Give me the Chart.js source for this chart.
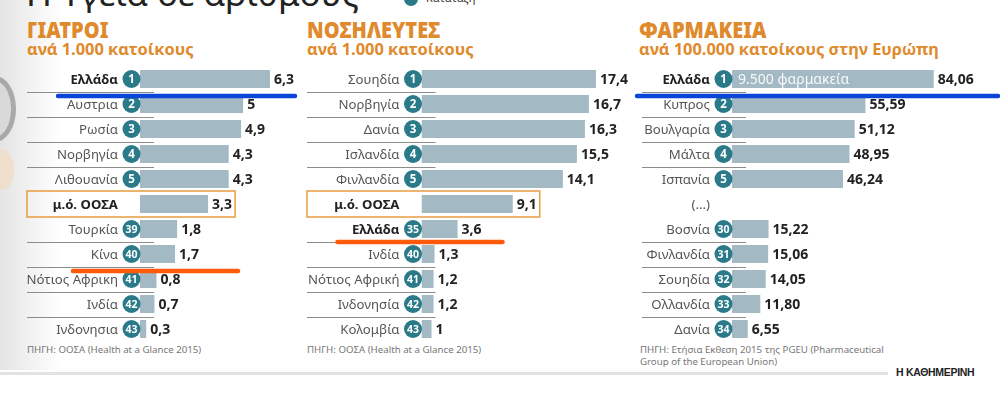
<!DOCTYPE html>
<html>
<head>
<meta charset="utf-8">
<script src="https://cdn.jsdelivr.net/npm/chart.js@4.4.1/dist/chart.umd.min.js"></script>
<style>
  body { margin: 0; width: 1006px; height: 398px; overflow: hidden; background: #fff; position: relative; font-family: "Noto Sans", sans-serif; }
  .shade { position: absolute; left: 0; top: 0; width: 60px; height: 370px; background: linear-gradient(to right, #e4e4e4, rgba(255,255,255,0)); }
  .ring { position: absolute; left: -26px; top: 76px; width: 32px; height: 56px; border-radius: 50%; border: 5px solid #8f8f8f; background: #d4d4d4; opacity: .7; }
  .blob { position: absolute; left: -10px; top: 150px; width: 24px; height: 40px; border-radius: 50%; background: #f0dcc4; opacity: .8; }
  .title { position: absolute; left: 26px; top: -31px; font-size: 35px; color: #222; white-space: nowrap; }
  .legend { position: absolute; left: 404px; top: -10px; font-size: 11px; color: #333; }
  .legend span { display: inline-block; width: 14px; height: 14px; border-radius: 50%; background: #2a7a8a; vertical-align: middle; margin-right: 8px; }
  .head { position: absolute; top: 18px; color: #df8a2c; font-weight: bold; white-space: nowrap; }
  .head b { display: block; font-size: 20px; line-height: 26px; transform: scaleY(1.12); transform-origin: 0 78%; }
  .head i { display: block; font-style: normal; font-size: 16.4px; line-height: 9px; }
  .src { position: absolute; top: 344px; font-size: 9.7px; line-height: 12px; color: #777; white-space: nowrap; }
  .rule { position: absolute; left: 0; top: 372px; width: 888px; height: 3px; background: #e2e2e2; }
  .brand { position: absolute; left: 896px; top: 366px; font-family: "Liberation Sans", sans-serif; font-weight: bold; font-size: 10.5px; color: #222; letter-spacing: -0.3px; }
  canvas { position: absolute; left: 0; top: 0; }
</style>
</head>
<body>
<div class="shade"></div><div class="ring"></div><div class="blob"></div>
<div class="title">Η Υγεία σε αριθμούς</div>
<div class="legend"><span></span>Κατάταξη</div>

<div class="head" style="left:27px"><b>ΓΙΑΤΡΟΙ</b><i>ανά 1.000 κατοίκους</i></div>
<div class="head" style="left:307px"><b>ΝΟΣΗΛΕΥΤΕΣ</b><i>ανά 1.000 κατοίκους</i></div>
<div class="head" style="left:639px"><b>ΦΑΡΜΑΚΕΙΑ</b><i>ανά 100.000 κατοίκους στην Ευρώπη</i></div>

<div class="src" style="left:27px">ΠΗΓΗ: ΟΟΣΑ (Health at a Glance 2015)</div>
<div class="src" style="left:307px">ΠΗΓΗ: ΟΟΣΑ (Health at a Glance 2015)</div>
<div class="src" style="left:640px">ΠΗΓΗ: Ετήσια Εκθεση 2015 της PGEU (Pharmaceutical<br>Group of the European Union)</div>
<div class="rule"></div>
<div class="brand">Η ΚΑΘΗΜΕΡΙΝΗ</div>

<canvas id="doctors" width="1006" height="398"></canvas>
<canvas id="nurses" width="1006" height="398"></canvas>
<canvas id="pharmacies" width="1006" height="398"></canvas>

<script>
// --- data ---
const doctorCountries = ["Ελλάδα", "Αυστρια", "Ρωσία", "Νορβηγία", "Λιθουανία", "μ.ό. ΟΟΣΑ", "Τουρκία", "Κίνα", "Νότιος Αφρικη", "Ινδία", "Ινδονησια"];
const doctorRanks = [1, 2, 3, 4, 5, null, 39, 40, 41, 42, 43];
const doctorValues = [6.3, 5, 4.9, 4.3, 4.3, 3.3, 1.8, 1.7, 0.8, 0.7, 0.3];

const nurseCountries = ["Σουηδία", "Νορβηγία", "Δανία", "Ισλανδία", "Φινλανδία", "μ.ό. ΟΟΣΑ", "Ελλάδα", "Ινδία", "Νότιος Αφρική", "Ινδονησία", "Κολομβία"];
const nurseRanks = [1, 2, 3, 4, 5, null, 35, 40, 41, 42, 43];
const nurseValues = [17.4, 16.7, 16.3, 15.5, 14.1, 9.1, 3.6, 1.3, 1.2, 1.2, 1];

const pharmacyCountries = ["Ελλάδα", "Κυπρος", "Βουλγαρία", "Μάλτα", "Ισπανία", "(...)", "Βοσνία", "Φινλανδία", "Σουηδία", "Ολλανδία", "Δανία"];
const pharmacyRanks = [1, 2, 3, 4, 5, null, 30, 31, 32, 33, 34];
const pharmacyValues = [84.06, 55.59, 51.12, 48.95, 46.24, null, 15.22, 15.06, 14.05, 11.80, 6.55];
const pharmacyNote = "9.500 φαρμακεία";

// --- styling ---
const BAR = "#a3b9c4";
const TEAL = "#2a7a8a";
const FONT = '"Noto Sans", sans-serif';

const panelPlugin = {
  id: "panel",
  afterDatasetsDraw(chart, args, o) {
    const ctx = chart.ctx;
    const xs = chart.scales.x, ys = chart.scales.y;
    const labels = chart.data.labels;
    const values = chart.data.datasets[0].data;
    const x0 = chart.chartArea.left;
    const half = ys.height / labels.length / 2;
    const last = labels.length - 1;
    ctx.save();
    ctx.textBaseline = "middle";
    labels.forEach((lab, i) => {
      const y = ys.getPixelForValue(i);
      // separators
      if (i !== last && i !== o.special && i !== o.special - 1) {
        ctx.strokeStyle = "#8c8c8c";
        ctx.lineWidth = 1;
        ctx.beginPath();
        ctx.moveTo(o.lineLeft, Math.round(y + half) + 0.5);
        ctx.lineTo(x0 + 14, Math.round(y + half) + 0.5);
        ctx.stroke();
      }
      // category label
      const strong = o.bold.includes(i);
      ctx.font = (strong ? "bold " : "") + "13.2px " + FONT;
      ctx.fillStyle = strong ? "#222" : "#555";
      ctx.textAlign = "right";
      ctx.fillText(lab, x0 - 22, y + 1);
      // value label
      const v = values[i];
      let end = x0;
      if (v != null) {
        const txt = o.fixed ? v.toFixed(o.fixed).replace(".", ",") : String(v).replace(".", ",");
        const xe = xs.getPixelForValue(v);
        ctx.font = "bold 14px " + FONT;
        ctx.fillStyle = "#222";
        ctx.textAlign = "left";
        ctx.fillText(txt, xe + 4, y + 1);
        end = xe + 4 + ctx.measureText(txt).width;
      }
      // average box
      if (o.box && i === o.special) {
        ctx.strokeStyle = "#e9a24c";
        ctx.lineWidth = 1.6;
        ctx.strokeRect(o.lineLeft, y - half - 0.5, end + 3 - o.lineLeft, half * 2 + 1);
      }
      // rank badge
      const r = o.ranks[i];
      if (r != null) {
        ctx.fillStyle = TEAL;
        ctx.beginPath();
        ctx.arc(x0 - 8.5, y, 9, 0, Math.PI * 2);
        ctx.fill();
        ctx.fillStyle = "#fff";
        ctx.textAlign = "center";
        ctx.font = "bold " + (r > 9 ? "10.5px " : "11.5px ") + FONT;
        ctx.fillText(String(r), x0 - 8.5, y + 1);
      }
      // note inside bar
      if (o.note && i === 0) {
        ctx.font = "14px " + FONT;
        ctx.fillStyle = "rgba(255,255,255,0.92)";
        ctx.textAlign = "left";
        ctx.fillText(o.note, x0 + 6, y + 1);
      }
    });
    // hand-drawn highlight strokes
    (o.marks || []).forEach(m => {
      const y = ys.getPixelForValue(m.row) + m.dy;
      ctx.strokeStyle = m.color;
      ctx.lineWidth = 4.5;
      ctx.lineCap = "round";
      ctx.beginPath();
      ctx.moveTo(x0 + m.from, y);
      ctx.lineTo(x0 + m.to, y);
      ctx.stroke();
    });
    ctx.restore();
  }
};

function makePanel(id, labels, values, barStart, barEnd, max, panel) {
  new Chart(document.getElementById(id), {
    type: "bar",
    data: {
      labels: labels,
      datasets: [{ data: values, backgroundColor: BAR, barPercentage: 0.72, categoryPercentage: 1 }]
    },
    options: {
      indexAxis: "y",
      responsive: false,
      animation: false,
      devicePixelRatio: 1,
      layout: { padding: { left: barStart, right: 1006 - barEnd, top: 66.5, bottom: 398 - 341.5 } },
      scales: {
        x: { display: false, min: 0, max: max },
        y: { display: false }
      },
      plugins: { legend: { display: false }, tooltip: { enabled: false }, panel: panel }
    },
    plugins: [panelPlugin]
  });
}

makePanel("doctors", doctorCountries, doctorValues, 140, 305, 8, {
  ranks: doctorRanks, bold: [0, 5], special: 5, box: true, lineLeft: 27,
  marks: [{ row: 0, dy: 17, from: -82, to: 155, color: "#0a45d8" },
          { row: 7, dy: 17, from: -67, to: 98, color: "#ff5a0a" }]
});
makePanel("nurses", nurseCountries, nurseValues, 421.5, 622, 20, {
  ranks: nurseRanks, bold: [5, 6], special: 5, box: true, lineLeft: 307,
  marks: [{ row: 6, dy: 13, from: -84, to: 81, color: "#ff5a0a" }]
});
makePanel("pharmacies", pharmacyCountries, pharmacyValues, 732, 972, 100, {
  ranks: pharmacyRanks, bold: [0], special: 5, box: false, lineLeft: 642, fixed: 2,
  note: pharmacyNote,
  marks: [{ row: 0, dy: 17, from: -95, to: 266, color: "#0a45d8" }]
});
</script>
</body>
</html>
